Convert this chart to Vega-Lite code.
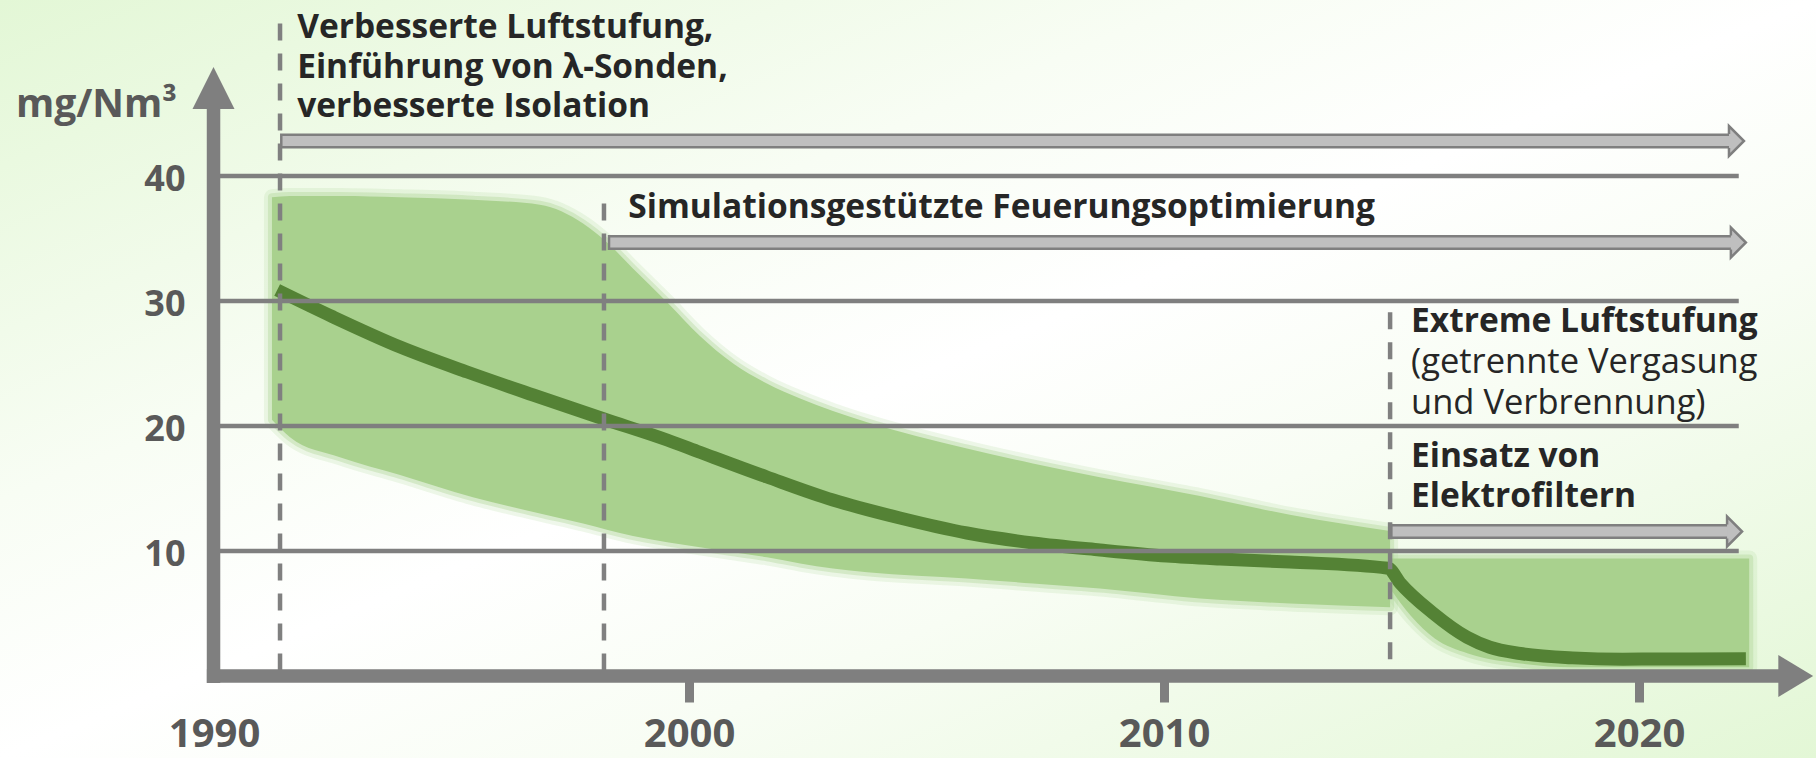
{
  "$schema": "https://vega.github.io/schema/vega-lite/v6.json",
  "width": 1816,
  "height": 758,
  "padding": 0,
  "autosize": {"type": "none"},
  "background": "#ffffff",
  "config": {
    "font": "Open Sans",
    "view": {
      "stroke": null,
      "fill": {
        "gradient": "linear", "x1": 0, "y1": 0, "x2": 1, "y2": 1,
        "stops": [
          {"offset": 0, "color": "#e3f7d6"},
          {"offset": 0.33, "color": "#f8fdf4"},
          {"offset": 0.5, "color": "#ffffff"},
          {"offset": 0.67, "color": "#f8fdf4"},
          {"offset": 1, "color": "#e3f7d6"}
        ]
      }
    }
  },
  "datasets": {
    "band": [
      {"seg": "a", "year": 1991.22, "lo": 20.5, "hi": 38.3},
      {"seg": "a", "year": 1991.6, "lo": 19.1, "hi": 38.4},
      {"seg": "a", "year": 1992.65, "lo": 17.5, "hi": 38.4},
      {"seg": "a", "year": 1993.9, "lo": 16.1, "hi": 38.3},
      {"seg": "a", "year": 1995.45, "lo": 14.3, "hi": 38.1},
      {"seg": "a", "year": 1996.86, "lo": 13.0, "hi": 37.7},
      {"seg": "a", "year": 1997.77, "lo": 12.2, "hi": 36.2},
      {"seg": "a", "year": 1998.27, "lo": 11.7, "hi": 34.7},
      {"seg": "a", "year": 1998.82, "lo": 11.2, "hi": 32.6},
      {"seg": "a", "year": 1999.54, "lo": 10.7, "hi": 29.9},
      {"seg": "a", "year": 2000.23, "lo": 10.3, "hi": 27.2},
      {"seg": "a", "year": 2000.93, "lo": 9.9, "hi": 25.0},
      {"seg": "a", "year": 2001.64, "lo": 9.5, "hi": 23.4},
      {"seg": "a", "year": 2002.34, "lo": 9.0, "hi": 22.2},
      {"seg": "a", "year": 2003.03, "lo": 8.6, "hi": 21.2},
      {"seg": "a", "year": 2003.75, "lo": 8.3, "hi": 20.3},
      {"seg": "a", "year": 2005.85, "lo": 7.8, "hi": 18.2},
      {"seg": "a", "year": 2007.24, "lo": 7.4, "hi": 17.0},
      {"seg": "a", "year": 2008.65, "lo": 7.0, "hi": 15.9},
      {"seg": "a", "year": 2010.76, "lo": 6.2, "hi": 14.4},
      {"seg": "a", "year": 2012.65, "lo": 5.8, "hi": 12.9},
      {"seg": "a", "year": 2014.76, "lo": 5.5, "hi": 11.6},
      {"seg": "b", "year": 2014.76, "lo": 7.0, "hi": 9.4},
      {"seg": "b", "year": 2015.2, "lo": 4.8, "hi": 9.4},
      {"seg": "b", "year": 2015.7, "lo": 3.0, "hi": 9.4},
      {"seg": "b", "year": 2016.4, "lo": 1.8, "hi": 9.4},
      {"seg": "b", "year": 2017.5, "lo": 1.0, "hi": 9.4},
      {"seg": "b", "year": 2018.6, "lo": 0.7, "hi": 9.4},
      {"seg": "b", "year": 2022.32, "lo": 0.7, "hi": 9.4}
    ],
    "curve": [
      {"year": 1991.33, "value": 30.88},
      {"year": 1992.51, "value": 28.72},
      {"year": 1993.92, "value": 26.32},
      {"year": 1995.33, "value": 24.32},
      {"year": 1996.72, "value": 22.48},
      {"year": 1998.21, "value": 20.56},
      {"year": 1999.54, "value": 18.88},
      {"year": 2000.23, "value": 17.9},
      {"year": 2001.64, "value": 15.92},
      {"year": 2003.03, "value": 14.08},
      {"year": 2004.44, "value": 12.64},
      {"year": 2005.85, "value": 11.44},
      {"year": 2007.24, "value": 10.64},
      {"year": 2008.65, "value": 10.08},
      {"year": 2010.06, "value": 9.6},
      {"year": 2011.18, "value": 9.36},
      {"year": 2012.65, "value": 9.12},
      {"year": 2014.72, "value": 8.62},
      {"year": 2014.97, "value": 7.44},
      {"year": 2015.66, "value": 5.04},
      {"year": 2016.38, "value": 3.1},
      {"year": 2016.86, "value": 2.3},
      {"year": 2017.5, "value": 1.8},
      {"year": 2018.6, "value": 1.45},
      {"year": 2019.66, "value": 1.35},
      {"year": 2021.07, "value": 1.36},
      {"year": 2022.25, "value": 1.38}
    ],
    "grid": [{"value": 10}, {"value": 20}, {"value": 30}, {"value": 40}],
    "milestones": [
      {"year": 1991.39, "top": 52.2},
      {"year": 1998.21, "top": 37.8},
      {"year": 2014.76, "top": 29.1}
    ],
    "axislines": [
      {"x1": 1989.85, "x2": 2022.97, "y1": 0, "y2": 0},
      {"x1": 1989.99, "x2": 1989.99, "y1": -0.56, "y2": 45.4}
    ],
    "yarrow": [{"year": 1989.99, "value": 47.04}],
    "xarrow": [{"year": 2023.3, "value": 0}],
    "measures": [
      {"start": 1991.39, "end": 2022.21, "value": 42.8},
      {"start": 1998.29, "end": 2022.25, "value": 34.68},
      {"start": 2014.76, "end": 2022.17, "value": 11.56}
    ],
    "notes_bold": [
      {"year": 1991.75, "value": 51.04, "text": "Verbesserte Luftstufung,\nEinführung von λ-Sonden,\nverbesserte Isolation"},
      {"year": 1998.72, "value": 36.64, "text": "Simulationsgestützte Feuerungsoptimierung"},
      {"year": 2015.2, "value": 27.52, "text": "Extreme Luftstufung"},
      {"year": 2015.2, "value": 16.72, "text": "Einsatz von\nElektrofiltern"}
    ],
    "notes_regular": [
      {"year": 2015.2, "value": 24.24, "text": "(getrennte Vergasung\nund Verbrennung)"}
    ],
    "unit": [{"year": 1985.83, "value": 44.72, "text": "mg/Nm³"}]
  },
  "layer": [
    {
      "data": {"name": "band"},
      "mark": {"type": "area", "interpolate": "monotone", "fillOpacity": 0, "stroke": "#a9d18e", "strokeWidth": 16, "strokeOpacity": 0.18, "strokeJoin": "round"},
      "encoding": {
        "x": {"field": "year", "type": "quantitative", "title": null,
          "scale": {"domain": [1985.4947, 2023.7263], "nice": false, "zero": false},
          "axis": {"orient": "bottom", "offset": -82, "values": [1990, 2000, 2010, 2020], "format": "d",
            "domain": false, "grid": false, "ticks": true, "tickSize": 26, "tickWidth": 9,
            "tickColor": {"condition": {"test": "datum.value == 1990", "value": "transparent"}, "value": "#7f7f7f"},
            "labelFont": "Open Sans", "labelFontSize": 40, "labelFontWeight": "bold", "labelColor": "#595959",
            "labelBaseline": "alphabetic", "labelPadding": 44, "labelFlush": false, "labelOverlap": false, "title": null}},
        "y": {"field": "hi", "type": "quantitative", "title": null,
          "scale": {"domain": [-6.56, 54.08], "nice": false, "zero": false},
          "axis": {"orient": "left", "offset": -213, "values": [10, 20, 30, 40],
            "domain": false, "grid": false, "ticks": false, "tickSize": 0, "labelPadding": 28, "labelOffset": 3,
            "labelFont": "Open Sans", "labelFontSize": 36, "labelFontWeight": "bold", "labelColor": "#595959", "title": null}},
        "y2": {"field": "lo"},
        "detail": {"field": "seg"}
      }
    },
    {
      "data": {"name": "band"},
      "mark": {"type": "area", "interpolate": "monotone", "fillOpacity": 0, "stroke": "#a9d18e", "strokeWidth": 8, "strokeOpacity": 0.35, "strokeJoin": "round"},
      "encoding": {
        "x": {"field": "year", "type": "quantitative", "title": null},
        "y": {"field": "hi", "type": "quantitative", "title": null},
        "y2": {"field": "lo"},
        "detail": {"field": "seg"}
      }
    },
    {
      "data": {"name": "band"},
      "mark": {"type": "area", "interpolate": "monotone", "fill": "#a9d18e", "opacity": 1},
      "encoding": {
        "x": {"field": "year", "type": "quantitative", "title": null},
        "y": {"field": "hi", "type": "quantitative", "title": null},
        "y2": {"field": "lo"},
        "detail": {"field": "seg"}
      }
    },
    {
      "data": {"name": "curve"},
      "mark": {"type": "line", "interpolate": "monotone", "color": "#548235", "strokeWidth": 13, "strokeCap": "butt", "strokeJoin": "round"},
      "encoding": {
        "x": {"field": "year", "type": "quantitative", "title": null},
        "y": {"field": "value", "type": "quantitative", "title": null}
      }
    },
    {
      "data": {"name": "grid"},
      "mark": {"type": "rule", "color": "#7f7f7f", "strokeWidth": 4.5},
      "encoding": {
        "x": {"datum": 1990.1, "type": "quantitative", "title": null},
        "x2": {"datum": 2022.1},
        "y": {"field": "value", "type": "quantitative", "title": null}
      }
    },
    {
      "data": {"name": "milestones"},
      "mark": {"type": "rule", "color": "#808080", "strokeWidth": 4.5, "strokeDash": [17, 13]},
      "encoding": {
        "x": {"field": "year", "type": "quantitative", "title": null},
        "y": {"field": "top", "type": "quantitative", "title": null},
        "y2": {"datum": 0}
      }
    },
    {
      "data": {"name": "axislines"},
      "mark": {"type": "rule", "color": "#7f7f7f", "strokeWidth": 13.5, "strokeCap": "butt"},
      "encoding": {
        "x": {"field": "x1", "type": "quantitative", "title": null},
        "x2": {"field": "x2"},
        "y": {"field": "y1", "type": "quantitative", "title": null},
        "y2": {"field": "y2"}
      }
    },
    {
      "data": {"name": "yarrow"},
      "mark": {"type": "point", "shape": "M-1,1L0,-1L1,1Z", "size": 1764, "filled": true, "fill": "#7f7f7f", "opacity": 1, "strokeWidth": 0},
      "encoding": {
        "x": {"field": "year", "type": "quantitative", "title": null},
        "y": {"field": "value", "type": "quantitative", "title": null}
      }
    },
    {
      "data": {"name": "xarrow"},
      "mark": {"type": "point", "shape": "M-0.83,-1L0.83,0L-0.83,1Z", "size": 1764, "filled": true, "fill": "#7f7f7f", "opacity": 1, "strokeWidth": 0},
      "encoding": {
        "x": {"field": "year", "type": "quantitative", "title": null},
        "y": {"field": "value", "type": "quantitative", "title": null}
      }
    },
    {
      "data": {"name": "measures"},
      "mark": {"type": "rule", "color": "#7f7f7f", "strokeWidth": 15, "strokeCap": "butt", "x2Offset": -12},
      "encoding": {
        "x": {"field": "start", "type": "quantitative", "title": null},
        "x2": {"field": "end"},
        "y": {"field": "value", "type": "quantitative", "title": null}
      }
    },
    {
      "data": {"name": "measures"},
      "mark": {"type": "rule", "color": "#bfbfbf", "strokeWidth": 10, "strokeCap": "butt", "xOffset": 2.5, "x2Offset": -14},
      "encoding": {
        "x": {"field": "start", "type": "quantitative", "title": null},
        "x2": {"field": "end"},
        "y": {"field": "value", "type": "quantitative", "title": null}
      }
    },
    {
      "data": {"name": "measures"},
      "mark": {"type": "point", "shape": "M-1,0.47L-1,1L0,0L-1,-1L-1,-0.47", "size": 900, "filled": true, "fill": "#bfbfbf", "stroke": "#7f7f7f", "strokeWidth": 2.5, "opacity": 1},
      "encoding": {
        "x": {"field": "end", "type": "quantitative", "title": null},
        "y": {"field": "value", "type": "quantitative", "title": null}
      }
    },
    {
      "data": {"name": "notes_bold"},
      "mark": {"type": "text", "align": "left", "baseline": "alphabetic", "font": "Open Sans", "fontSize": 33.5, "fontWeight": "bold", "color": "#262626", "lineBreak": "\n", "lineHeight": 39.5},
      "encoding": {
        "x": {"field": "year", "type": "quantitative", "title": null},
        "y": {"field": "value", "type": "quantitative", "title": null},
        "text": {"field": "text"}
      }
    },
    {
      "data": {"name": "notes_regular"},
      "mark": {"type": "text", "align": "left", "baseline": "alphabetic", "font": "Open Sans", "fontSize": 34.5, "fontWeight": "normal", "color": "#262626", "lineBreak": "\n", "lineHeight": 41},
      "encoding": {
        "x": {"field": "year", "type": "quantitative", "title": null},
        "y": {"field": "value", "type": "quantitative", "title": null},
        "text": {"field": "text"}
      }
    },
    {
      "data": {"name": "unit"},
      "mark": {"type": "text", "align": "left", "baseline": "alphabetic", "font": "Open Sans", "fontSize": 39, "fontWeight": "bold", "color": "#595959"},
      "encoding": {
        "x": {"field": "year", "type": "quantitative", "title": null},
        "y": {"field": "value", "type": "quantitative", "title": null},
        "text": {"field": "text"}
      }
    }
  ]
}
